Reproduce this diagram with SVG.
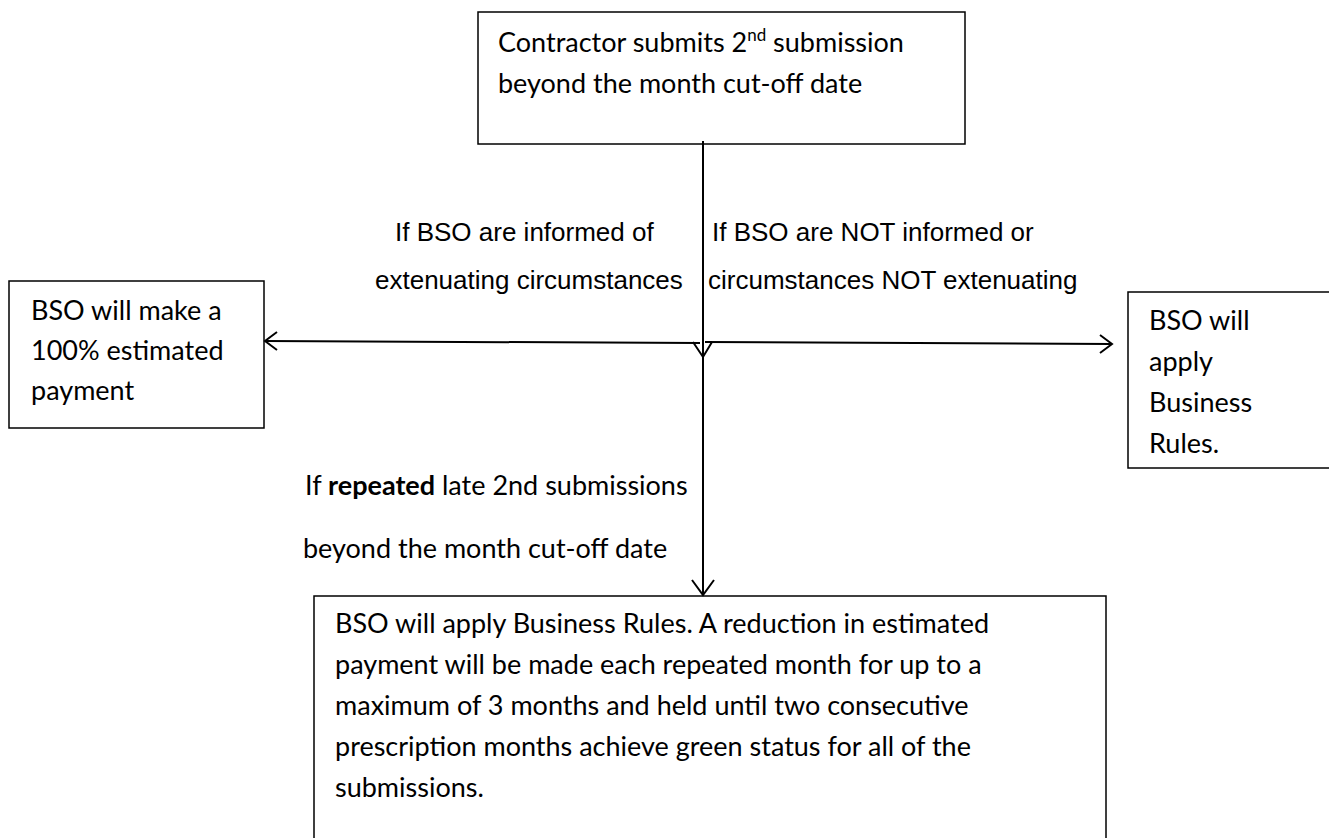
<svg xmlns="http://www.w3.org/2000/svg" width="1329" height="838" viewBox="0 0 1329 838">
<style>
.box{fill:#fff;stroke:#000;stroke-width:1.5}
.t{font-family:Lato,"Open Sans",sans-serif;font-size:27px;fill:#000}
.a{font-family:"Liberation Sans",Arial,sans-serif;font-size:26px;fill:#000}
.c{fill:none;stroke:#000;stroke-width:2}
</style>
<rect width="1329" height="838" fill="#fff"/>
<g id="n-top">
<rect class="box" x="478" y="12" width="487" height="132"/>
<text class="t" x="498" y="52">Contractor submits 2<tspan font-size="17" dy="-11">nd</tspan><tspan dy="11"> submission</tspan></text>
<text class="t" x="498" y="93">beyond the month cut-off date</text>
</g>
<g id="n-left">
<rect class="box" x="9" y="281" width="255" height="147"/>
<text class="t" x="31" y="320">BSO will make a</text>
<text class="t" x="31" y="360">100% estimated</text>
<text class="t" x="31" y="400">payment</text>
</g>
<g id="n-right">
<rect class="box" x="1128" y="292" width="210" height="176"/>
<text class="t" x="1149" y="330">BSO will</text>
<text class="t" x="1149" y="371">apply</text>
<text class="t" x="1149" y="412">Business</text>
<text class="t" x="1149" y="453">Rules.</text>
</g>
<g id="n-bottom">
<rect class="box" x="314" y="596" width="792" height="250"/>
<text class="t" x="335" y="633">BSO will apply Business Rules. A reduction in estimated</text>
<text class="t" x="335" y="674">payment will be made each repeated month for up to a</text>
<text class="t" x="335" y="715">maximum of 3 months and held until two consecutive</text>
<text class="t" x="335" y="756">prescription months achieve green status for all of the</text>
<text class="t" x="335" y="797">submissions.</text>
</g>
<g id="connectors">
<path class="c" d="M703,141 V357"/>
<path class="c" d="M693,342 L703,357 L712,342"/>
<path class="c" d="M700,343 L265,341"/>
<path class="c" d="M277,332 L265,341 L277,350"/>
<path class="c" d="M705,342 L1112,344"/>
<path class="c" d="M1100,335 L1112,344 L1100,353"/>
<path class="c" d="M703,343 V595"/>
<path class="c" d="M692,580 L703,595 L714,580"/>
</g>
<g id="labels">
<text class="a" x="395" y="241">If BSO are informed of</text>
<text class="a" x="375" y="289">extenuating circumstances</text>
<text class="a" x="712" y="241">If BSO are NOT informed or</text>
<text class="a" x="708" y="289">circumstances NOT extenuating</text>
<text class="t" x="305" y="495">If <tspan font-weight="bold">repeated</tspan> late 2nd submissions</text>
<text class="t" x="303" y="558">beyond the month cut-off date</text>
</g>
</svg>
